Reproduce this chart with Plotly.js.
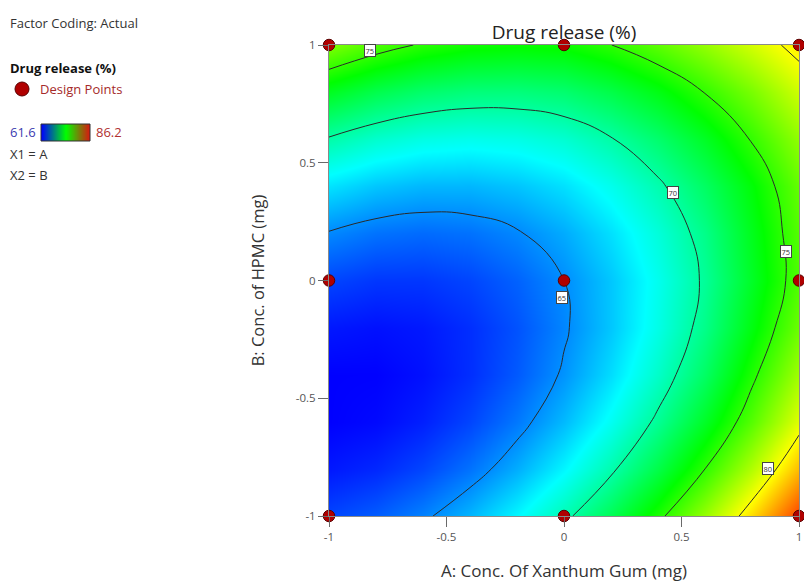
<!DOCTYPE html>
<html>
<head>
<meta charset="utf-8">
<script src="https://cdn.plot.ly/plotly-3.0.1.min.js"></script>
<style>html,body{margin:0;padding:0;background:#fff;}#chart{width:804px;height:584px;}</style>
</head>
<body>
<div id="chart"></div>
<script>
// Factor levels (coded)
const factorA = [-1, -0.8, -0.6, -0.4, -0.2, 0, 0.2, 0.4, 0.6, 0.8, 1];
const factorB = [-1, -0.8, -0.6, -0.4, -0.2, 0, 0.2, 0.4, 0.6, 0.8, 1];
const drugRelease = [
  [63.25, 63.82, 64.73, 65.99, 67.61, 69.57, 71.88, 74.55, 77.56, 80.92, 84.63],
  [62.15, 62.53, 63.26, 64.35, 65.78, 67.56, 69.69, 72.17, 75.00, 78.18, 81.70],
  [61.60, 61.80, 62.35, 63.25, 64.50, 66.09, 68.04, 70.34, 72.98, 75.98, 79.33],
  [61.60, 61.62, 61.98, 62.70, 63.76, 65.18, 66.94, 69.06, 71.52, 74.63, 77.80],
  [62.15, 61.99, 62.17, 62.70, 63.58, 64.82, 66.40, 68.33, 70.61, 73.54, 76.52],
  [63.25, 62.90, 62.90, 63.25, 63.95, 65.00, 66.40, 68.15, 70.25, 72.99, 75.79],
  [64.90, 64.37, 64.18, 64.35, 64.87, 65.74, 67.02, 68.64, 70.62, 73.25, 75.93],
  [67.10, 66.38, 66.02, 66.00, 66.34, 67.02, 68.18, 69.69, 71.55, 73.76, 76.32],
  [69.85, 68.95, 68.40, 68.20, 68.35, 68.85, 69.90, 71.29, 73.03, 75.12, 77.40],
  [73.14, 72.06, 71.33, 70.95, 70.92, 71.24, 72.16, 73.43, 75.06, 76.81, 78.87],
  [76.99, 75.73, 74.81, 74.25, 74.04, 74.17, 74.98, 76.13, 77.47, 79.01, 80.60]
];
// Design points (3x3 factorial)
const designA = [-1, -1, -1, 0, 0, 0, 1, 1, 1];
const designB = [-1, 0, 1, -1, 0, 1, -1, 0, 1];
// Colour range of the response
const responseRange = [61.6, 86.2];
const contourLevels = [65, 70, 75, 80];
const tickValues = [-1, -0.5, 0, 0.5, 1];
const tickLabels = ['-1', '-0.5', '0', '0.5', '1'];
// Contour label texts in the order they are placed on the map
const contourLabelText = ['75', '70', '75', '65', '80'];

const FONT = 'Open Sans, Noto Sans, sans-serif';
const W = 799, H = 471; // plot area in px (after margins)
const px = v => v / W;
const py = v => (516 - v) / H;

const mapScale = [[0, '#0000ff'], [0.25, '#00ffff'], [0.5, '#00ff00'], [0.75, '#ffff00'], [1, '#ff0000']];
const legendScale = [[0, '#0000ff'], [0.5, '#00ff00'], [1, '#e01010']];

const traces = [
  {
    type: 'contour', x: factorA, y: factorB, z: drugRelease,
    zmin: responseRange[0], zmax: responseRange[1], zauto: false,
    colorscale: mapScale, showscale: false,
    contours: {coloring: 'heatmap', start: contourLevels[0], end: contourLevels[contourLevels.length - 1],
               size: contourLevels[1] - contourLevels[0], showlabels: false},
    line: {color: '#2a2a2a', width: 1, smoothing: 1.3},
    hoverinfo: 'skip', xaxis: 'x', yaxis: 'y'
  },
  {
    type: 'scatter', mode: 'markers', x: designA, y: designB,
    marker: {size: 11.5, color: '#b00000', line: {color: '#5a0000', width: 1}},
    cliponaxis: false, showlegend: false, xaxis: 'x', yaxis: 'y'
  },
  {
    type: 'heatmap', x: [0, 1], y: [0, 1],
    z: [[responseRange[0], responseRange[1]], [responseRange[0], responseRange[1]]],
    zmin: responseRange[0], zmax: responseRange[1], zsmooth: 'best',
    colorscale: legendScale, showscale: false, hoverinfo: 'skip',
    xaxis: 'x2', yaxis: 'y2'
  }
];

const axisCommon = {
  showgrid: false, zeroline: false, showline: true, linecolor: '#8a8a8a', linewidth: 1,
  mirror: true, ticks: 'outside', ticklen: 10, tickcolor: '#6a6a6a', tickwidth: 1,
  tickvals: tickValues, ticktext: tickLabels,
  tickfont: {family: FONT, size: 11.5, color: '#555'}
};

const ann = (x, y, text, color, size, extra) => Object.assign({
  xref: 'paper', yref: 'paper', x: px(x), y: py(y), text: text, showarrow: false,
  xanchor: 'left', yanchor: 'middle', font: {family: FONT, size: size || 13, color: color || '#333'}
}, extra || {});

// label placements (data coordinates) for the boxed contour labels
const labelSpots = [[-0.826, 0.975], [0.464, 0.374], [0.945, 0.123], [-0.009, -0.074], [0.866, -0.800]];
const contourLabels = contourLabelText.map((t, i) => ({
  xref: 'x', yref: 'y', x: labelSpots[i][0], y: labelSpots[i][1], text: t, showarrow: false,
  xanchor: 'center', yanchor: 'middle', bgcolor: '#fff', bordercolor: '#444', borderwidth: 1, borderpad: 0.5,
  font: {family: FONT, size: 7.5, color: '#333'}
}));

const layout = {
  width: 804, height: 584,
  margin: {l: 0, r: 5, t: 45, b: 68},
  paper_bgcolor: '#fff', plot_bgcolor: '#fff',
  showlegend: false,
  font: {family: FONT, color: '#333'},
  title: {text: 'Drug release (%)', font: {family: FONT, size: 19, color: '#222'},
          xref: 'paper', x: px(564), xanchor: 'center', yref: 'container', y: 1 - 32 / 584, yanchor: 'middle'},
  xaxis: Object.assign({}, axisCommon, {
    domain: [px(329), 1], range: [-1, 1],
    title: {text: 'A: Conc. Of Xanthum Gum (mg)', font: {family: FONT, size: 17, color: '#333'}}
  }),
  yaxis: Object.assign({}, axisCommon, {
    domain: [0, 1], range: [-1, 1], automargin: true,
    title: {text: 'B: Conc. of HPMC (mg)', font: {family: FONT, size: 16.5, color: '#333'}, standoff: 27}
  }),
  xaxis2: {domain: [px(41), px(90)], range: [0, 1], visible: false, anchor: 'y2', fixedrange: true},
  yaxis2: {domain: [py(141), py(124)], range: [0, 1], visible: false, anchor: 'x2', fixedrange: true},
  shapes: [
    {type: 'rect', xref: 'paper', yref: 'paper', x0: px(41), x1: px(90), y0: py(141), y1: py(124),
     line: {color: '#333', width: 1}, fillcolor: 'rgba(0,0,0,0)'},
    {type: 'circle', xref: 'paper', yref: 'paper', x0: px(15), x1: px(29), y0: py(96), y1: py(82),
     line: {color: '#5a0000', width: 1}, fillcolor: '#b00000'}
  ],
  annotations: [
    ann(8, 23, 'Factor Coding: Actual', '#333', 13),
    ann(8, 68, '<b>Drug release (%)</b>', '#111', 13),
    ann(38, 89, 'Design Points', '#a52a2a', 13),
    ann(8, 132, '61.6', '#3b3bb0', 13),
    ann(94, 132, '86.2', '#b03030', 13),
    ann(8, 154, 'X1 = A', '#333', 13),
    ann(8, 175, 'X2 = B', '#333', 13)
  ].concat(contourLabels)
};

Plotly.newPlot('chart', traces, layout, {displayModeBar: false, staticPlot: true});
</script>
</body>
</html>
